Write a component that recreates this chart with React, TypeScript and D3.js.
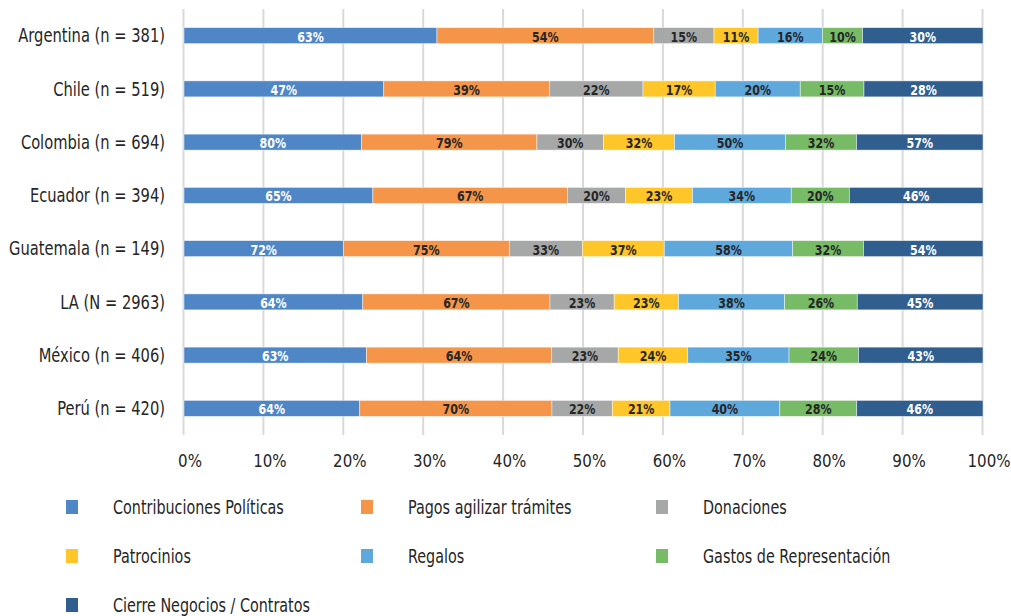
import * as d3 from 'd3'
import React from 'react'

const categories = [
    'Argentina (n = 381)',
    'Chile (n = 519)',
    'Colombia (n = 694)',
    'Ecuador (n = 394)',
    'Guatemala (n = 149)',
    'LA (N = 2963)',
    'México (n = 406)',
    'Perú (n = 420)',
]

const seriesNames = [
    'Contribuciones Políticas',
    'Pagos agilizar trámites',
    'Donaciones',
    'Patrocinios',
    'Regalos',
    'Gastos de Representación',
    'Cierre Negocios / Contratos',
]

const contribuciones = [63, 47, 80, 65, 72, 64, 63, 64]
const pagos = [54, 39, 79, 67, 75, 67, 64, 70]
const donaciones = [15, 22, 30, 20, 33, 23, 23, 22]
const patrocinios = [11, 17, 32, 23, 37, 23, 24, 21]
const regalos = [16, 20, 50, 34, 58, 38, 35, 40]
const gastos = [10, 15, 32, 20, 32, 26, 24, 28]
const cierre = [30, 28, 57, 46, 54, 45, 43, 46]

const tickValues = [0, 0.1, 0.2, 0.3, 0.4, 0.5, 0.6, 0.7, 0.8, 0.9, 1]

const colors = ['#4f86c6', '#f5954a', '#a6a8a8', '#ffc62a', '#5ea8dc', '#78bb66', '#305f8f']
const labelColors = ['#ffffff', '#262626', '#262626', '#262626', '#262626', '#262626', '#ffffff']

const FONT = '"DejaVu Sans Condensed", "DejaVu Sans", sans-serif'

// narrow text: the original uses a condensed face, so squeeze horizontally
const Narrow = (props: {
    x: number
    y: number
    sx: number
    anchor?: string
    size: number
    bold?: boolean
    fill: string
    children: string
}): JSX.Element => {
    const { x, y, sx, anchor, size, bold, fill, children } = props
    return (
        <text
            transform={`translate(${x},${y}) scale(${sx},1)`}
            dy="0.35em"
            textAnchor={anchor || 'start'}
            fontSize={size}
            fontWeight={bold ? 'bold' : 'normal'}
            fill={fill}
        >
            {children}
        </text>
    )
}

const App = (): JSX.Element => {
    const width = 1011
    const height = 616
    const margin = { top: 9, right: 28, bottom: 181, left: 184 }

    const allSeries = [contribuciones, pagos, donaciones, patrocinios, regalos, gastos, cierre]

    // table for the stack: one row per country
    const table = categories.map((c, i) => {
        const row: any = { category: c }
        seriesNames.forEach((s, j) => (row[s] = allSeries[j][i]))
        return row
    })

    const stacked = d3
        .stack()
        .keys(seriesNames)
        .offset(d3.stackOffsetExpand)(table)

    const xScale = d3
        .scaleLinear()
        .domain([0, 1])
        .range([margin.left, width - margin.right])

    const yScale = d3
        .scaleBand()
        .domain(categories)
        .range([margin.top, height - margin.bottom])
        .paddingInner(0.7)
        .paddingOuter(0.35)

    const plotBottom = height - margin.bottom
    const legendCols = [66, 361, 656]
    const legendRows = [507, 556, 605]

    return (
        <svg
            width={width}
            height={height}
            style={{ position: 'absolute', left: 0, top: 0, background: '#fff' }}
            fontFamily={FONT}
        >
            {/* gridlines */}
            {tickValues.map((t) => (
                <line
                    key={`g-${t}`}
                    x1={xScale(t) - 0.5}
                    x2={xScale(t) - 0.5}
                    y1={margin.top}
                    y2={plotBottom}
                    stroke="#d9d9d9"
                    strokeWidth={2}
                />
            ))}

            {/* bars */}
            {stacked.map((layer, j) => (
                <g key={layer.key}>
                    {layer.map((d, i) => {
                        const x0 = xScale(d[0])
                        const x1 = xScale(d[1])
                        const y = yScale(categories[i]) as number
                        return (
                            <g key={`${layer.key}-${i}`}>
                                <rect
                                    x={x0}
                                    y={y}
                                    width={x1 - x0}
                                    height={yScale.bandwidth()}
                                    fill={colors[j]}
                                    stroke="#ffffff"
                                    strokeOpacity={0.6}
                                    strokeWidth={0.75}
                                />
                                <Narrow
                                    x={(x0 + x1) / 2}
                                    y={y + yScale.bandwidth() / 2 + 1}
                                    sx={0.85}
                                    anchor="middle"
                                    size={14.5}
                                    bold
                                    fill={labelColors[j]}
                                >
                                    {`${allSeries[j][i]}%`}
                                </Narrow>
                            </g>
                        )
                    })}
                </g>
            ))}

            {/* category labels */}
            {categories.map((c) => (
                <Narrow
                    key={c}
                    x={165}
                    y={(yScale(c) as number) + yScale.bandwidth() / 2}
                    sx={0.86}
                    anchor="end"
                    size={19}
                    fill="#262626"
                >
                    {c}
                </Narrow>
            ))}

            {/* x tick labels */}
            {tickValues.map((t) => (
                <Narrow
                    key={`t-${t}`}
                    x={xScale(t) + 6}
                    y={461}
                    sx={0.93}
                    anchor="middle"
                    size={18}
                    fill="#262626"
                >
                    {d3.format('.0%')(t)}
                </Narrow>
            ))}

            {/* legend */}
            {seriesNames.map((s, j) => {
                const lx = legendCols[j % 3]
                const ly = legendRows[Math.floor(j / 3)]
                return (
                    <g key={`l-${s}`}>
                        <rect x={lx} y={ly - 7} width={12} height={14} fill={colors[j]} />
                        <Narrow x={lx + 47} y={ly} sx={0.84} size={19} fill="#262626">
                            {s}
                        </Narrow>
                    </g>
                )
            })}
        </svg>
    )
}

export default App
